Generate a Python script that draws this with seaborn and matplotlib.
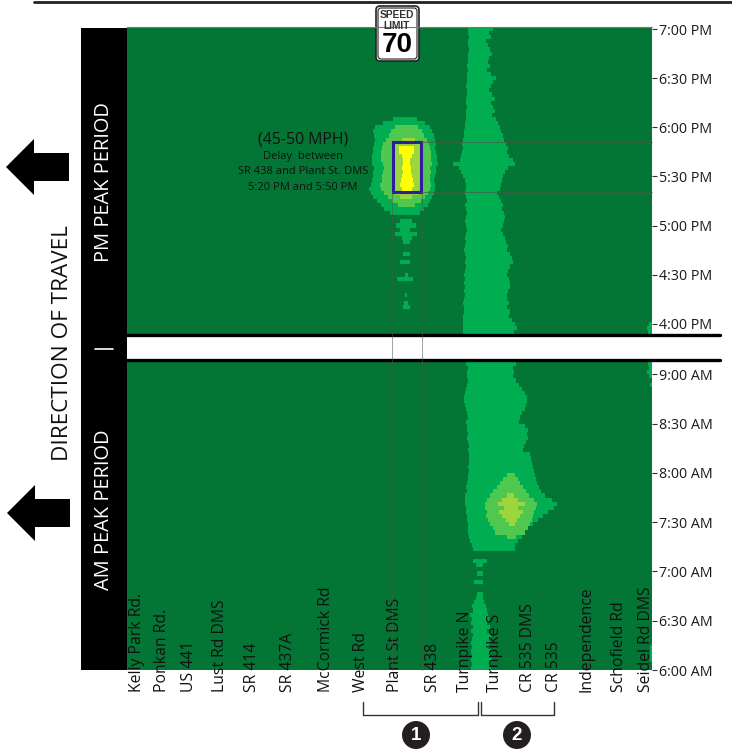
import numpy as np
import matplotlib
matplotlib.use('Agg')
import matplotlib.pyplot as plt
from matplotlib.colors import ListedColormap
from matplotlib.patches import FancyBboxPatch, Rectangle, Polygon, Circle
import seaborn as sns

sns.set_theme(style='white')
plt.rcParams['font.family'] = ['Open Sans', 'DejaVu Sans']

# Locations along the corridor
locations = ['Kelly Park Rd.', 'Ponkan Rd.', 'US 441', 'Lust Rd DMS', 'SR 414', 'SR 437A', 'McCormick Rd',
             'West Rd', 'Plant St DMS', 'SR 438', 'Turnpike N', 'Turnpike S', 'CR 535 DMS', 'CR 535',
             'Independence', 'Schofield Rd', 'Seidel Rd DMS']
location_pos = [10, 35, 62, 93, 125, 161, 199, 234, 268, 306, 338, 368, 401, 427, 460, 492, 519]

pm_times = ['7:00 PM', '6:30 PM', '6:00 PM', '5:30 PM', '5:00 PM', '4:30 PM', '4:00 PM']
am_times = ['9:00 AM', '8:30 AM', '8:00 AM', '7:30 AM', '7:00 AM', '6:30 AM', '6:00 AM']

# Speed band colours, slowest is yellow
band_colors = ['#037535', '#00AD50', '#50C850', '#9CD63C', '#FFFF00']

# PM peak, one row is 2.5 minutes. Left and right edge of each speed band along the corridor
pm_turnpike_left = [341, 341, 342, 341, 341, 342, 341, 341, 341, 340, 341, 340, 340, 340, 339, 340, 340, 339, 339,
                    340, 339, 339, 339, 338, 338, 337, 337, 336, 335, 336, 335, 334, 333, 326, 332, 334, 336, 338,
                    339, 339, 338, 339, 340, 338, 339, 340, 339, 338, 339, 340, 339, 338, 339, 338, 337, 338, 339,
                    338, 339, 338, 337, 338, 337, 338, 337, 338, 337, 336, 337, 337, 336, 336, 336, 336, 336]
pm_turnpike_right = [366, 362, 364, 359, 361, 363, 365, 362, 361, 363, 360, 364, 369, 366, 364, 362, 365, 368, 364,
                     366, 368, 365, 369, 371, 373, 374, 376, 377, 379, 381, 380, 382, 386, 388, 381, 378, 376, 375,
                     374, 373, 370, 372, 374, 376, 375, 377, 378, 377, 376, 374, 376, 378, 379, 381, 380, 383, 385,
                     386, 383, 381, 380, 382, 383, 383, 381, 380, 380, 382, 380, 383, 382, 385, 388, 390, 387]

pm_outer_rows = [22, 23, 24, 25, 26, 27, 28, 29, 30, 31, 32, 33, 34, 35, 36, 37, 38, 39, 40, 41, 42, 43, 44, 45,
                 47, 48, 49, 50, 51, 52, 55, 57, 60, 61, 65, 67, 68]
pm_outer_left = [266, 256, 248, 246, 247, 248, 247, 246, 246, 245, 245, 245, 247, 246, 246, 245, 244, 242, 244, 246,
                 250, 254, 257, 263, 273, 269, 273, 268, 275, 276, 276, 273, 278, 270, 278, 277, 276]
pm_outer_right = [290, 298, 303, 305, 307, 308, 309, 308, 309, 310, 310, 311, 309, 309, 308, 307, 308, 308, 307, 305,
                  303, 301, 297, 293, 285, 289, 283, 290, 285, 283, 283, 283, 281, 286, 280, 281, 283]

pm_middle_rows = [24, 25, 26, 27, 28, 29, 30, 31, 32, 33, 34, 35, 36, 37, 38, 39, 40, 41, 42, 43]
pm_middle_left = [268, 264, 262, 259, 256, 255, 254, 254, 254, 256, 257, 256, 255, 255, 253, 254, 257, 261, 265, 271]
pm_middle_right = [291, 295, 297, 300, 302, 303, 304, 304, 304, 305, 303, 304, 303, 303, 304, 303, 301, 298, 294, 288]

pm_inner_rows = [27, 28, 29, 30, 31, 32, 33, 34, 35, 36, 37, 38, 39, 40, 41]
pm_inner_left = [275, 266, 266, 266, 265, 265, 265, 266, 265, 265, 266, 265, 265, 268, 273]
pm_inner_right = [288, 293, 294, 294, 294, 294, 294, 294, 294, 294, 294, 294, 294, 292, 285]

pm_core_rows = [29, 30, 31, 32, 33, 34, 35, 36, 37, 38, 39]
pm_core_left = [272, 272, 275, 276, 276, 275, 276, 275, 274, 273, 275]
pm_core_right = [287, 287, 285, 283, 283, 284, 284, 285, 286, 287, 285]

# Slow spots at the far end of the corridor
pm_edge_rows = [72, 73, 74]
pm_edge_left = [522, 520, 521]
am_edge_rows = [1, 2, 3, 4, 6, 70, 71, 72, 73]
am_edge_left = [521, 522, 520, 522, 523, 523, 523, 523, 523]

# AM peak, one row is 2.5 minutes
am_outer_rows = list(range(46)) + [46, 49, 50, 52, 54, 57, 58] + list(range(59, 76))
am_outer_left = [340, 339, 341, 340, 340, 341, 340, 339, 338, 337, 337, 338, 339, 340, 341, 339, 340, 340, 341, 340,
                 341, 342, 341, 342, 342, 342, 341, 342, 341, 341, 340, 339, 340, 338, 338, 338, 339, 339, 340, 340,
                 341, 341, 341, 342, 343, 345,
                 346, 346, 349, 350, 347, 350, 349,
                 347, 345, 346, 343, 345, 344, 346, 344, 346, 345, 344, 345, 344, 345, 344, 345, 344]
am_outer_right = [388, 389, 386, 387, 386, 389, 392, 395, 398, 400, 400, 399, 398, 395, 393, 392, 398, 401, 400, 401,
                  399, 397, 396, 403, 404, 405, 406, 407, 408, 409, 410, 412, 414, 418, 425, 430, 427, 421, 416, 411,
                  406, 401, 398, 395, 391, 388,
                  388, 360, 356, 356, 356, 356, 356,
                  357, 359, 360, 361, 362, 360, 363, 360, 364, 362, 363, 361, 364, 363, 365, 363, 364]

am_middle_rows = [28, 29, 30, 31, 32, 33, 34, 35, 36, 37, 38, 39, 40, 41, 42, 43]
am_middle_left = [380, 376, 373, 370, 366, 363, 360, 358, 358, 360, 359, 361, 363, 366, 368, 380]
am_middle_right = [388, 391, 393, 396, 399, 402, 407, 410, 409, 407, 406, 405, 403, 401, 398, 389]

am_inner_rows = [33, 34, 35, 36, 37, 38, 39, 40]
am_inner_left = [380, 375, 371, 377, 372, 375, 379, 382]
am_inner_right = [387, 391, 398, 391, 396, 393, 390, 388]


def paint(grid, rows, left, right, level):
    for row, a, b in zip(rows, left, right):
        grid[row, a:b] = level


# Build the two speed tables
pm_grid = np.zeros((75, 525))
paint(pm_grid, range(75), pm_turnpike_left, pm_turnpike_right, 1)
paint(pm_grid, pm_outer_rows, pm_outer_left, pm_outer_right, 1)
paint(pm_grid, pm_middle_rows, pm_middle_left, pm_middle_right, 2)
paint(pm_grid, pm_inner_rows, pm_inner_left, pm_inner_right, 3)
paint(pm_grid, pm_core_rows, pm_core_left, pm_core_right, 4)
paint(pm_grid, pm_edge_rows, pm_edge_left, [525] * len(pm_edge_rows), 1)

am_grid = np.zeros((76, 525))
paint(am_grid, am_outer_rows, am_outer_left, am_outer_right, 1)
paint(am_grid, am_middle_rows, am_middle_left, am_middle_right, 2)
paint(am_grid, am_inner_rows, am_inner_left, am_inner_right, 3)
paint(am_grid, am_edge_rows, am_edge_left, [525] * len(am_edge_rows), 1)

W, H = 732, 750
fig = plt.figure(figsize=(W / 100, H / 100), dpi=100)
cmap = ListedColormap(band_colors)

ax_pm = fig.add_axes([127 / W, 1 - 334 / H, 525 / W, 307 / H])
sns.heatmap(pm_grid, ax=ax_pm, cmap=cmap, vmin=-0.5, vmax=4.5, cbar=False, xticklabels=False, yticklabels=False)
ax_am = fig.add_axes([127 / W, 1 - 670 / H, 525 / W, 310 / H])
sns.heatmap(am_grid, ax=ax_am, cmap=cmap, vmin=-0.5, vmax=4.5, cbar=False, xticklabels=False, yticklabels=False)
ax_am.set_ylim(76, 0.5)

# Time ticks on the right side
for ax, labels, first in [(ax_pm, pm_times, 0.5), (ax_am, am_times, 4)]:
    ax.set_axisbelow(False)
    ax.yaxis.tick_right()
    ax.set_yticks([first + 12 * i for i in range(len(labels))])
    ax.set_yticklabels(labels, rotation=0, fontsize=10.3, color='#1a1a1a')
    ax.tick_params(axis='y', length=3.6, width=0.8, color='#333333', pad=1.5, right=True, left=False)

ax_pm.set_xticks([])
ax_am.set_xticks(location_pos)
ax_am.set_xticklabels(locations, rotation=90, fontsize=11.3, va='bottom', ha='center', color='#111111')
ax_am.tick_params(axis='x', length=0, pad=16)

# Everything else sits on a full figure layer in pixels
ov = fig.add_axes([0, 0, 1, 1], facecolor='none', zorder=5)
ov.set_xlim(0, W)
ov.set_ylim(H, 0)
ov.axis('off')

ov.plot([34, 732], [1.5, 1.5], color='#222222', lw=2)
ov.plot([127, 652], [27, 27], color='#777777', lw=0.8)
ov.add_patch(Rectangle((81, 28), 46, 642, color='black', lw=0))
ov.plot([127, 720], [334.5, 334.5], color='black', lw=2.4)
ov.plot([127, 720], [359.5, 359.5], color='black', lw=2.4)

ov.text(104, 182, 'PM PEAK PERIOD', color='white', rotation=90, ha='center', va='center', fontsize=14.4)
ov.text(104, 510, 'AM PEAK PERIOD', color='white', rotation=90, ha='center', va='center', fontsize=14.4)
ov.plot([95, 113], [349, 349], color='white', lw=1.2)
ov.text(62, 343, 'DIRECTION OF TRAVEL', color='#111111', rotation=90, ha='center', va='center', fontsize=16.2)

# Direction arrows
for tip_y, shift in [(167, 0), (513, 1)]:
    ov.add_patch(Polygon([(6 + shift, tip_y), (34 + shift, tip_y - 28), (34 + shift, tip_y - 14),
                          (69 + shift, tip_y - 14), (69 + shift, tip_y + 14), (34 + shift, tip_y + 14),
                          (34 + shift, tip_y + 28)], color='black', lw=0))

# Delay box and its guide lines
guide = '#4a5a4a'
ov.plot([391.5, 391.5], [192, 670], color=guide, lw=0.7, alpha=0.55)
ov.plot([421.5, 421.5], [192, 670], color=guide, lw=0.7, alpha=0.55)
ov.plot([421, 652], [141.5, 141.5], color=guide, lw=0.7, alpha=0.7)
ov.plot([421, 652], [191.5, 191.5], color=guide, lw=0.7, alpha=0.7)
ov.add_patch(Rectangle((392.5, 142), 28.5, 50, fill=False, edgecolor='#2E1E9E', lw=2.2))

ov.text(303, 139, '(45-50 MPH)', ha='center', va='center', fontsize=11.4, color='#111111')
ov.text(303, 157, 'Delay  between', ha='center', va='center', fontsize=8, color='#111111')
ov.text(303, 172, 'SR 438 and Plant St. DMS', ha='center', va='center', fontsize=8, color='#111111')
ov.text(303, 188, '5:20 PM and 5:50 PM', ha='center', va='center', fontsize=8, color='#111111')

# Speed limit sign
ov.add_patch(FancyBboxPatch((376, 6), 43, 55, boxstyle='round,pad=0,rounding_size=4', facecolor='white',
                            edgecolor='#222222', lw=1.2))
ov.add_patch(FancyBboxPatch((378, 8), 39, 51, boxstyle='round,pad=0,rounding_size=3', facecolor='white',
                            edgecolor='#222222', lw=0.8))
ov.text(397, 15.5, 'SPEED', ha='center', va='center', fontsize=7.4, fontweight='bold', color='#333333',
        family='Liberation Sans')
ov.text(397, 26, 'LIMIT', ha='center', va='center', fontsize=7.4, fontweight='bold', color='#333333',
        family='Liberation Sans')
ov.text(397, 45, '70', ha='center', va='center', fontsize=20, fontweight='bold', color='black',
        family='Liberation Sans')

# Segment brackets with numbers
bracket = '#333333'
ov.plot([363, 363, 478, 478], [702, 715, 715, 702], color=bracket, lw=1)
ov.plot([481, 481, 554, 554], [702, 715, 715, 702], color=bracket, lw=1)
for cx, number in [(416, '1'), (517, '2')]:
    ov.add_patch(Circle((cx, 735), 14, color='#231F20', lw=0))
    ov.text(cx, 735, number, color='white', ha='center', va='center', fontsize=13.5, fontweight='bold',
            family='Liberation Sans')

fig.savefig('out.png', dpi=100)
